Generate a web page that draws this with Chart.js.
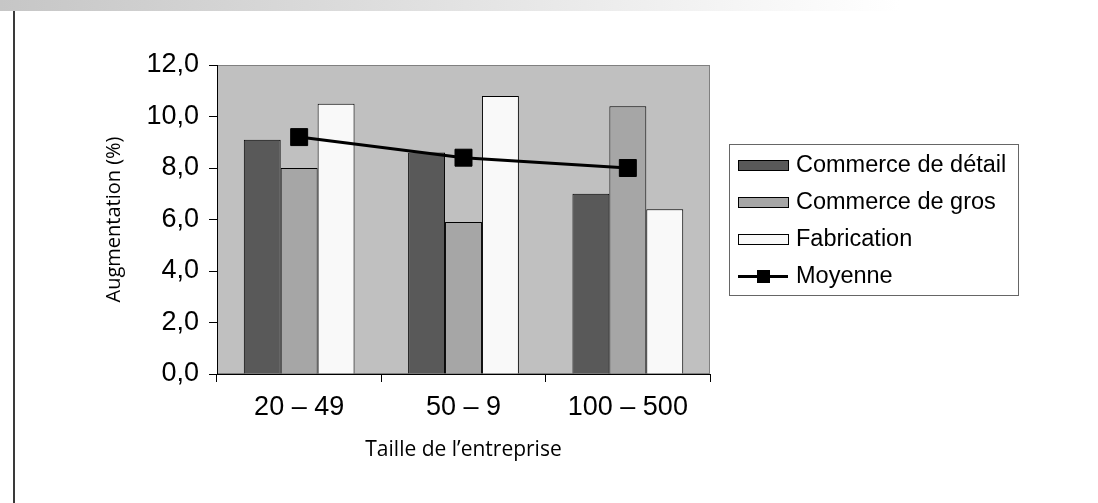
<!DOCTYPE html>
<html>
<head>
<meta charset="utf-8">
<script src="https://cdn.jsdelivr.net/npm/chart.js@4"></script>
<style>
  body { margin: 0; background: #fff; }
  #strip { position: absolute; left: 0; top: 0; width: 1098px; height: 11px;
           background: linear-gradient(to right, #c6c6c6 0px, #e0e0e0 420px, #f8f8f8 780px, #fff 900px); }
  #rule { position: absolute; left: 13px; top: 11px; width: 2px; height: 492px; background: #3a3a3a; }
  #wrap { position: absolute; left: 0; top: 0; width: 1098px; height: 503px; }
</style>
</head>
<body>
<div id="strip"></div>
<div id="rule"></div>
<div id="wrap"><canvas id="chart"></canvas></div>
<script>
// Augmentation par taille d'entreprise
const categories = ['20 – 49', '50 – 9', '100 – 500'];
const seriesNames = ['Commerce de détail', 'Commerce de gros', 'Fabrication', 'Moyenne'];
const retailValues = [9.1, 8.6, 7.0];
const wholesaleValues = [8.0, 5.9, 10.4];
const manufacturingValues = [10.5, 10.8, 6.4];
const averageValues = [9.2, 8.4, 8.0];
const seriesColors = ['#595959', '#a6a6a6', '#f9f9f9', '#000000'];

Chart.defaults.color = '#000';
Chart.defaults.font.family = '"Liberation Sans", Arial, sans-serif';

// grey plot background with thin border
const plotBackground = {
    id: 'plotBackground',
    beforeDraw(chart) {
        const { ctx, chartArea: a } = chart;
        ctx.save();
        ctx.fillStyle = '#c0c0c0';
        ctx.fillRect(a.left, a.top, a.right - a.left, a.bottom - a.top);
        ctx.strokeStyle = '#808080';
        ctx.lineWidth = 1;
        ctx.strokeRect(a.left + 0.5, a.top + 0.5, a.right - a.left - 1, a.bottom - a.top - 1);
        ctx.restore();
    }
};

// boxed legend, with line + marker for the average
const boxedLegend = {
    id: 'boxedLegend',
    afterDraw(chart) {
        const ctx = chart.ctx;
        ctx.save();
        ctx.strokeStyle = '#666';
        ctx.lineWidth = 1;
        ctx.strokeRect(729.5, 144.5, 289, 151);
        ctx.font = '23.5px "Liberation Sans", Arial, sans-serif';
        ctx.textBaseline = 'alphabetic';
        chart.data.datasets.forEach(function(ds, i) {
            const cy = 165.5 + i * 37;
            if (ds.type === 'line') {
                ctx.strokeStyle = '#000';
                ctx.lineWidth = 3;
                ctx.beginPath();
                ctx.moveTo(738, cy);
                ctx.lineTo(788, cy);
                ctx.stroke();
                ctx.fillStyle = '#000';
                ctx.fillRect(757, cy - 6.5, 13, 13);
            } else {
                ctx.fillStyle = ds.backgroundColor;
                ctx.fillRect(738.5, cy - 5, 50, 10);
                ctx.strokeStyle = '#000';
                ctx.lineWidth = 1;
                ctx.strokeRect(738.5, cy - 5, 50, 10);
            }
            ctx.fillStyle = '#000';
            ctx.fillText(ds.label, 796, cy + 6);
        });
        ctx.restore();
    }
};

const barStyle = { borderColor: '#000', borderWidth: 1, order: 1,
                   categoryPercentage: 0.674, barPercentage: 1.0 };

new Chart(document.getElementById('chart'), {
    data: {
        labels: categories,
        datasets: [
            Object.assign({ type: 'bar', label: seriesNames[0], data: retailValues, backgroundColor: seriesColors[0] }, barStyle),
            Object.assign({ type: 'bar', label: seriesNames[1], data: wholesaleValues, backgroundColor: seriesColors[1] }, barStyle),
            Object.assign({ type: 'bar', label: seriesNames[2], data: manufacturingValues, backgroundColor: seriesColors[2] }, barStyle),
            {
                type: 'line',
                label: seriesNames[3],
                data: averageValues,
                borderColor: seriesColors[3],
                borderWidth: 3,
                pointStyle: 'rect',
                pointRadius: 12,
                pointBackgroundColor: '#000',
                pointBorderColor: '#000',
                pointBorderWidth: 1,
                tension: 0,
                order: 0
            }
        ]
    },
    options: {
        responsive: true,
        maintainAspectRatio: false,
        animation: false,
        layout: { padding: { left: 0, top: 65, right: 388, bottom: 0 } },
        plugins: {
            legend: { display: false },
            tooltip: { enabled: false }
        },
        scales: {
            x: {
                grid: { offset: true, drawOnChartArea: false, color: '#000', tickLength: 8 },
                border: { color: '#000', width: 1 },
                ticks: { font: { size: 27 }, padding: 9 },
                title: {
                    display: true,
                    text: 'Taille de l\u2019entreprise',
                    font: { family: '"Open Sans", sans-serif', size: 21 },
                    padding: { top: 0, bottom: 40 }
                },
                afterFit(scale) { scale.height = 129; }
            },
            y: {
                min: 0,
                max: 12,
                ticks: {
                    stepSize: 2,
                    font: { size: 27 },
                    padding: 10,
                    callback: function(v) { return v.toFixed(1).replace('.', ','); }
                },
                grid: { drawOnChartArea: false, color: '#000', tickLength: 8 },
                border: { color: '#000', width: 1 },
                title: {
                    display: true,
                    text: 'Augmentation (%)',
                    font: { family: '"Open Sans", sans-serif', size: 20 },
                    padding: { top: 102, bottom: 0 }
                },
                afterFit(scale) { scale.width = 217; }
            }
        }
    },
    plugins: [plotBackground, boxedLegend]
});
</script>
</body>
</html>
